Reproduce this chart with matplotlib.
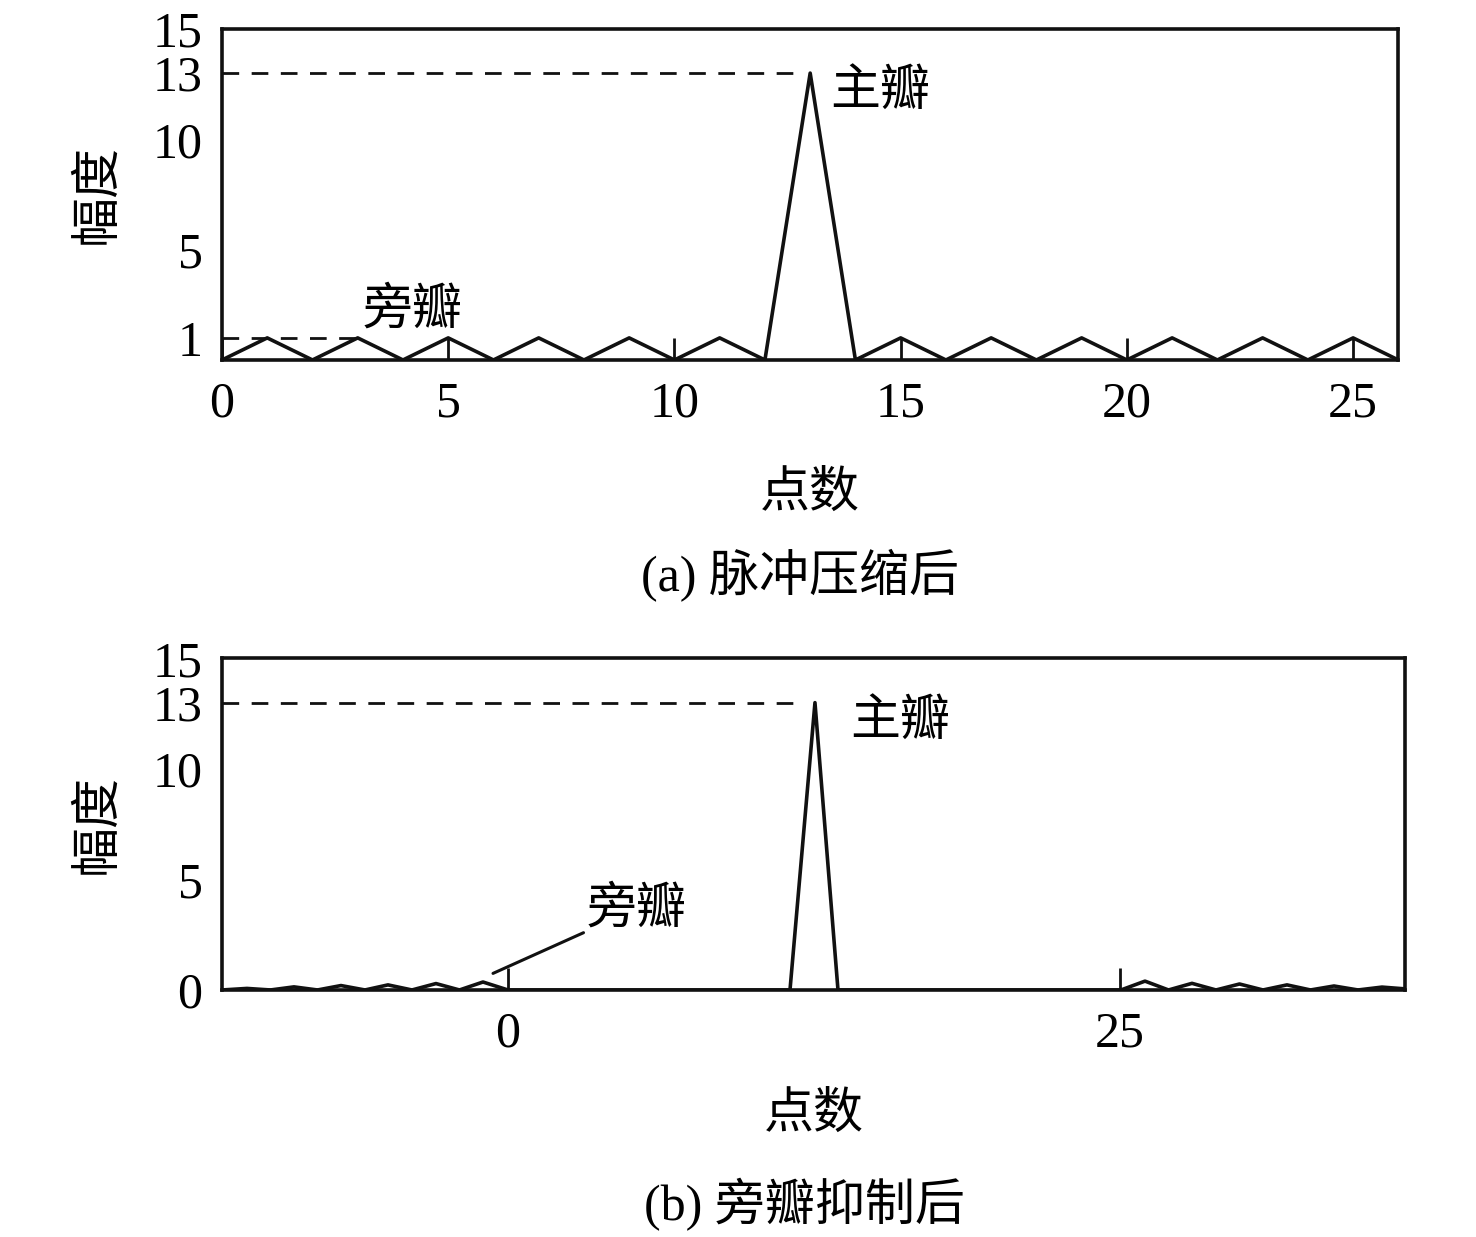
import matplotlib
matplotlib.use("Agg")
import matplotlib.pyplot as plt

plt.rcParams['font.family'] = ['Liberation Serif', 'Noto Sans CJK SC']
plt.rcParams['axes.unicode_minus'] = False

# (a) after pulse compression
pts_a = list(range(0, 27))
amp_a = [0, 1, 0, 1, 0, 1, 0, 1, 0, 1, 0, 1, 0, 13, 0,
         1, 0, 1, 0, 1, 0, 1, 0, 1, 0, 1, 0]

# (b) after sidelobe suppression
pts_b = [-11.68, -10.66, -9.7, -8.74, -7.78, -6.82, -5.84, -4.9, -3.92, -2.94, -1.98, -1.02, 0.0,
         11.52, 12.54, 13.48,
         25.04, 26.02, 26.98, 27.94, 28.92, 29.88, 30.84, 31.82, 32.78, 33.74, 34.72, 35.7, 36.64]
amp_b = [0.0, 0.07, 0.0, 0.14, 0.0, 0.2, 0.0, 0.23, 0.0, 0.29, 0.0, 0.36, 0.0,
         0.0, 13.0, 0.0,
         0.0, 0.4, 0.0, 0.3, 0.0, 0.27, 0.0, 0.23, 0.0, 0.18, 0.0, 0.13, 0.05]

yticks_a = [1, 5, 10, 13, 15]
yticks_b = [0, 5, 10, 13, 15]
xticks_a = [0, 5, 10, 15, 20, 25]
xticks_b = [0, 25]

fig = plt.figure(figsize=(14.76, 12.37), dpi=100)
ax1 = fig.add_axes([0.1504, 0.709, 0.797, 0.2676])
ax2 = fig.add_axes([0.1504, 0.1997, 0.8015, 0.268])

fs = 36
lw = 2.6
ink = '#111111'

for ax in (ax1, ax2):
    for s in ax.spines.values():
        s.set_linewidth(lw)
        s.set_color(ink)
    ax.tick_params(axis='x', direction='in', length=16, width=2, color=ink,
                   labelsize=fs, pad=15)
    ax.tick_params(axis='y', length=0, labelsize=fs, pad=14)

# ---- panel (a)
ax1.plot(pts_a, amp_a, color=ink, lw=lw)
ax1.plot([0, 12.67], [13, 13], color=ink, lw=2, ls=(0, (6, 4.5)))
ax1.plot([0, 3], [1, 1], color=ink, lw=2, ls=(0, (6, 4.5)))
ax1.set_xlim(0, 26)
ax1.set_ylim(0, 15)
ax1.set_xticks(xticks_a)
ax1.set_yticks(yticks_a)
ax1.text(13.45, 12.1, '主瓣', fontsize=fs, ha='left', va='center')
ax1.text(3.1, 2.2, '旁瓣', fontsize=fs, ha='left', va='center')
ax1.set_xlabel('点数', fontsize=fs, labelpad=32)
ax1.set_ylabel('幅度', fontsize=fs, labelpad=22)
fig.text(0.542, 0.535, '(a) 脉冲压缩后', fontsize=fs, ha='center', va='center')

# ---- panel (b)
ax2.plot(pts_b, amp_b, color=ink, lw=lw)
ax2.plot([-11.68, 12.13], [13, 13], color=ink, lw=2, ls=(0, (6, 4.5)))
ax2.set_xlim(-11.68, 36.64)
ax2.set_ylim(0, 15)
ax2.set_xticks(xticks_b)
ax2.set_yticks(yticks_b)
ax2.text(14.0, 12.1, '主瓣', fontsize=fs, ha='left', va='center')
ax2.annotate('旁瓣', xy=(-0.61, 0.75), xytext=(3.2, 3.6), fontsize=fs,
             ha='left', va='center',
             arrowprops=dict(arrowstyle='-', color=ink, lw=2.2,
                             shrinkA=0, shrinkB=0, relpos=(0, 0.05)))
ax2.set_xlabel('点数', fontsize=fs, labelpad=25)
ax2.set_ylabel('幅度', fontsize=fs, labelpad=22)
fig.text(0.545, 0.026, '(b) 旁瓣抑制后', fontsize=fs, ha='center', va='center')

fig.savefig('out.png', dpi=100)
